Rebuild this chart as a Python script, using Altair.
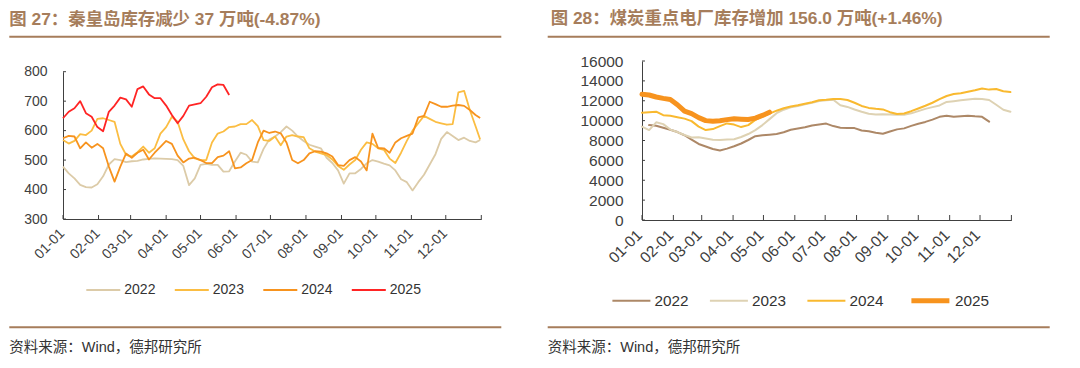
import altair as alt
import pandas as pd
from datetime import date, timedelta

# ---------------- text ----------------
TITLE_L = "图 27：秦皇岛库存减少 37 万吨(-4.87%)"
TITLE_R = "图 28：煤炭重点电厂库存增加 156.0 万吨(+1.46%)"
SOURCE = "资料来源：Wind，德邦研究所"
YEARS = ["2022", "2023", "2024", "2025"]

# ---------------- left chart: 秦皇岛库存 (万吨), 5-day sampling from 01-01 ----------------
L_DAYS = list(range(0, 361, 5)) + [364]
L2022 = [478, 455, 438, 416, 408, 407, 418, 445, 485, 503, 500, 493, 496, 497, 502, 504, 506, 505, 504, 503,
         500, 480, 415, 438, 484, 487, 484, 484, 461, 462, 495, 525, 518, 495, 492, 538, 570, 580, 595, 614,
         600, 580, 565, 552, 546, 540, 508, 490, 465, 420, 455, 455, 470, 489, 500, 495, 488, 482, 465, 435,
         425, 397, 425, 450, 485, 520, 572, 595, 582, 568, 576, 565, 560, 568]
L2023 = [568, 556, 565, 588, 585, 600, 640, 642, 636, 630, 555, 518, 512, 527, 546, 525, 540, 590, 612, 647,
         630, 570, 530, 506, 500, 500, 560, 590, 597, 612, 614, 622, 622, 636, 615, 568, 565, 580, 550, 580,
         585, 580, 578, 540, 529, 523, 517, 502, 480, 467, 485, 500, 535, 560, 555, 540, 535, 505, 490, 525,
         565, 600, 625, 650, 640, 630, 625, 620, 622, 730, 735, 670, 615, 570]
L2024 = [574, 582, 580, 540, 560, 542, 555, 540, 478, 427, 478, 522, 508, 525, 535, 502, 525, 545, 565, 555,
         515, 492, 505, 508, 500, 490, 490, 510, 515, 530, 472, 475, 489, 500, 560, 600, 592, 597, 591, 560,
         500, 489, 500, 523, 530, 529, 523, 512, 483, 480, 500, 510, 495, 465, 590, 541, 540, 525, 560, 574,
         582, 590, 645, 650, 698, 690, 681, 681, 685, 687, 684, 670, 653, 643]
L2025 = [642, 664, 676, 700, 659, 647, 612, 598, 664, 685, 712, 706, 681, 741, 750, 723, 710, 710, 685, 653,
         625, 650, 685, 689, 693, 715, 747, 757, 755, 721]
L_COLORS = ["#DCCBA8", "#FBBD42", "#F7931E", "#FF2424"]
L_YTICKS = [300, 400, 500, 600, 700, 800]

# ---------------- right chart: 煤炭重点电厂库存 (万吨), weekly sampling ----------------
R_DAYS = list(range(0, 365, 7))
R2022_DAYS = list(range(7, 344, 7))
R2022 = [9550, 9480, 9280, 9080, 8850, 8530, 8080, 7650, 7400, 7150, 7000, 7180, 7420, 7700, 8050, 8430, 8520,
         8580, 8650, 8830, 9080, 9200, 9330, 9510, 9620, 9700, 9450, 9290, 9270, 9250, 9000, 8930, 8780, 8680,
         8900, 9120, 9220, 9470, 9680, 9870, 10100, 10380, 10500, 10380, 10440, 10500, 10430, 10380, 9900]
R2023 = [9400, 9050, 9830, 9650, 9100, 8850, 8550, 8300, 8330, 8200, 8080, 8050, 8100, 8120, 8350, 8650, 9050,
         9550, 10150, 10750, 11100, 11350, 11480, 11640, 11800, 11980, 12060, 12100, 11550, 11380, 11120, 10900,
         10700, 10610, 10640, 10620, 10600, 10600, 10730, 10960, 11180, 11360, 11530, 11880, 11960, 12050, 12130,
         12190, 12170, 12080, 11600, 11100, 10900]
R2024 = [10800, 10850, 10900, 10550, 10480, 10350, 10200, 9950, 9400, 9050, 9150, 9450, 9720, 9600, 9350, 9550,
         10080, 10400, 10700, 11000, 11250, 11420, 11540, 11700, 11850, 12050, 12100, 12170, 12170, 12080, 11800,
         11480, 11280, 11190, 11130, 10850, 10670, 10720, 10950, 11220, 11500, 11800, 12160, 12480, 12680, 12750,
         12900, 13050, 13230, 13120, 13180, 12950, 12870]
R2025 = [12650, 12580, 12380, 12240, 12120, 11600, 10950, 10700, 10300, 10000, 9930, 9980, 10100, 10180, 10150,
         10120, 10250, 10520, 10850]
R_COLORS = ["#AD8867", "#DED2B3", "#F9B92F", "#F7931E"]
R_WIDTHS = [2, 2, 2, 5]
R_YTICKS = list(range(0, 16001, 2000))

MONTHS = list(range(1, 13))

# ---------------- helpers ----------------
BASE = date(2001, 1, 1)
FONT = "'Liberation Sans', 'Noto Sans CJK SC', sans-serif"
AXC = "#404040"
LABC = "#404040"
BROWN = "#A67D5B"


def day_str(d):
    return (BASE + timedelta(days=d)).strftime("%Y-%m-%d")


def frame(series):
    rows = []
    for name, days, vals in series:
        for d, v in zip(days, vals):
            rows.append({"date": day_str(d), "series": name, "value": v})
    return pd.DataFrame(rows)


left_df = frame([("2022", L_DAYS, L2022), ("2023", L_DAYS, L2023),
                 ("2024", L_DAYS, L2024), ("2025", L_DAYS, L2025)])
right_df = frame([("2022", R2022_DAYS, R2022), ("2023", R_DAYS, R2023),
                  ("2024", R_DAYS, R2024), ("2025", R_DAYS, R2025)])

tick_dates = [f"2001-{m:02d}-01" for m in MONTHS] + ["2002-01-01"]
tick_df = pd.DataFrame({"date": tick_dates})
tick_dt = [alt.DateTime(year=2001, month=m, date=1, utc=True) for m in MONTHS] + \
          [alt.DateTime(year=2002, month=1, date=1, utc=True)]
x_domain = [alt.DateTime(year=2001, month=1, date=1, utc=True),
            alt.DateTime(year=2002, month=1, date=1, utc=True)]
LABEL_EXPR = "utcyear(datum.value) > 2001 ? '' : utcFormat(datum.value, '%m-%d')"


def x_enc(fs, pad, off):
    return alt.X("date:T", scale=alt.Scale(type="utc", domain=x_domain),
                 axis=alt.Axis(values=tick_dt, labelExpr=LABEL_EXPR, ticks=False, grid=False,
                               domainColor=AXC, domainWidth=1, labelAngle=315, labelAlign="right",
                               labelBaseline="middle", labelFontSize=fs, labelColor=LABC,
                               labelPadding=pad, labelOffset=off, labelFont=FONT, title=None,
                               labelOverlap=False, labelFlush=False))


def y_enc(domain, rng, values, fs, pad):
    return alt.Y("value:Q", scale=alt.Scale(domain=domain, range=rng, nice=False, zero=False),
                 axis=alt.Axis(values=values, ticks=False, grid=False, domainColor=AXC, domainWidth=1,
                               labelFontSize=fs, labelColor=LABC, labelPadding=pad, labelFont=FONT,
                               title=None, labelFlush=False, labelOverlap=False, format="d"))


def one(text):
    return pd.DataFrame({"t": [text]})


def decor(top_px, title, title_x, title_y, rule_x1, rule_x2, top_rule_y, bot_rule_y, src_y):
    d = one("")
    return [
        alt.Chart(d).mark_rule(strokeOpacity=0).encode(
            x=alt.value(rule_x1), x2=alt.value(rule_x2), y=alt.value(top_px)),
        alt.Chart(one(title)).mark_text(align="left", baseline="middle", font=FONT, fontSize=17.4,
                                         fontWeight="bold", color=BROWN).encode(
            text="t:N", x=alt.value(title_x), y=alt.value(title_y)),
        alt.Chart(d).mark_rule(color=BROWN, strokeWidth=2).encode(
            x=alt.value(rule_x1), x2=alt.value(rule_x2), y=alt.value(top_rule_y)),
        alt.Chart(d).mark_rule(color=BROWN, strokeWidth=2).encode(
            x=alt.value(rule_x1), x2=alt.value(rule_x2), y=alt.value(bot_rule_y)),
        alt.Chart(one(SOURCE)).mark_text(align="left", baseline="middle", font=FONT, fontSize=14.5,
                                          color="#333333").encode(
            text="t:N", x=alt.value(rule_x1), y=alt.value(src_y)),
    ]


# ---------------- left panel (plot area top aligned with right panel) ----------------
W1, H1 = 418.3, 158
L_RANGE = [158, 10.7]
LX = x_enc(14, 12, -1)
LY = y_enc([300, 800], L_RANGE, L_YTICKS, 14, 16)
leg_l = alt.Legend(orient="none", legendX=22.3, legendY=211, direction="horizontal", title=None,
                   symbolType="stroke", symbolSize=1156, symbolStrokeWidth=2, labelFontSize=14,
                   labelFont=FONT, labelColor="#333333", columnPadding=14.5, labelOffset=3, padding=0)
lines_l = alt.Chart(left_df).mark_line(strokeWidth=1.8, strokeJoin="round").encode(
    x=LX, y=LY,
    color=alt.Color("series:N", scale=alt.Scale(domain=YEARS, range=L_COLORS), legend=leg_l),
)
xt_l = alt.Chart(tick_df).mark_rule(color=AXC).encode(x=LX, y=alt.value(H1 - 4), y2=alt.value(H1))
yt_l = alt.Chart(pd.DataFrame({"value": L_YTICKS})).mark_rule(color=AXC).encode(
    y=LY, x=alt.value(0), x2=alt.value(3))
left = alt.layer(lines_l, xt_l, yt_l,
                 *decor(-53, TITLE_L, -53.7, -41, -53.7, 438.3, -24.3, 266.3, 287)
                 ).properties(width=W1, height=H1)

# ---------------- right panel ----------------
W2, H2 = 369.4, 159
R_RANGE = [159, 0]
RX = x_enc(15.5, 12, -3)
RY = y_enc([0, 16000], R_RANGE, R_YTICKS, 15.5, 19)
leg_r = alt.Legend(orient="none", legendX=-30.6, legendY=218, direction="horizontal", title=None,
                   symbolType="stroke", symbolSize=1444, labelFontSize=15.3,
                   labelFont=FONT, labelColor="#333333", columnPadding=16.5, labelOffset=3, padding=0)
lines_r = alt.Chart(right_df).mark_line(strokeJoin="round", strokeCap="round").encode(
    x=RX, y=RY,
    color=alt.Color("series:N", scale=alt.Scale(domain=YEARS, range=R_COLORS), legend=leg_r),
    strokeWidth=alt.StrokeWidth("series:N", scale=alt.Scale(type="ordinal", domain=YEARS, range=R_WIDTHS),
                                legend=leg_r),
)
xt_r = alt.Chart(tick_df).mark_rule(color=AXC).encode(x=RX, y=alt.value(H2 - 5), y2=alt.value(H2))
yt_r = alt.Chart(pd.DataFrame({"value": R_YTICKS})).mark_rule(color=AXC).encode(
    y=RY, x=alt.value(0), x2=alt.value(3))
right = alt.layer(lines_r, xt_r, yt_r,
                  *decor(-53, TITLE_R, -91.3, -41.8, -94.3, 407.7, -24.3, 266.3, 287)
                  ).properties(width=W2, height=H2)

chart = alt.hconcat(left, right, spacing=43).resolve_scale(
    color="independent", strokeWidth="independent", x="independent", y="independent"
).properties(padding=0).configure_view(stroke=None)

chart.save("out.html", embed_options={"renderer": "svg", "actions": False})
